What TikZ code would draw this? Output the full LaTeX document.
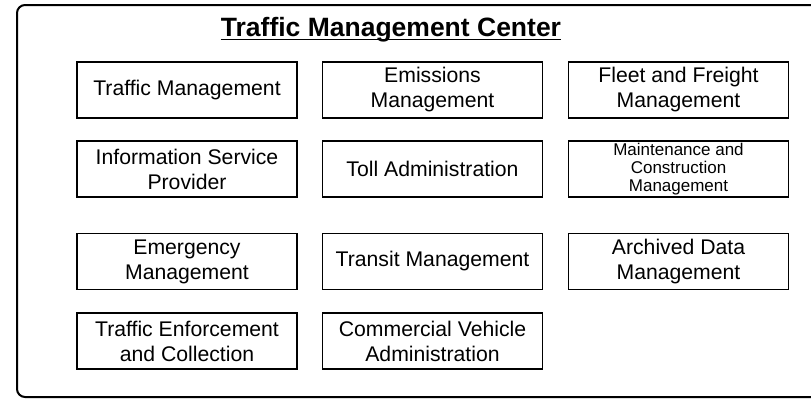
\documentclass[tikz,border=0pt]{standalone}
\usepackage{fontspec}
\setmainfont{Liberation Sans}
\begin{document}
\begin{tikzpicture}[x=1pt,y=-1pt,
    fnbox/.style={draw,line width=1.6pt,minimum width=220pt,minimum height=56pt,
      inner sep=0pt,align=center,font=\fontsize{21.2}{25}\selectfont},
    smalltext/.style={font=\fontsize{17}{18}\selectfont}]
  \useasboundingbox (0,0) rectangle (811,399);
  \clip (0,0) rectangle (811,399);
  % outer box, cut off at the right edge
  \draw[line width=2pt,rounded corners=8pt] (17,5) rectangle (830,397);
  \node[anchor=base,inner sep=0pt,font=\bfseries\fontsize{26.5}{30}\selectfont]
    (tmc) at (391,36) {Traffic Management Center};
  \draw[line width=1.8pt] ([yshift=-3.5pt]tmc.base west) -- ([yshift=-3.5pt]tmc.base east);
  % first row
  \node[fnbox] (traffic) at (187,90) {Traffic Management};
  \node[fnbox] (emissions) at (432.5,90) {Emissions\\Management};
  \node[fnbox] (fleet) at (678.5,90) {Fleet and Freight\\Management};
  % second row
  \node[fnbox] (isp) at (187,169) {Information Service\\Provider};
  \node[fnbox] (toll) at (432.5,169) {Toll Administration};
  \node[fnbox,smalltext] (mcm) at (678.5,169) {Maintenance and\\Construction\\Management};
  % third row
  \node[fnbox] (emergency) at (187,261.5) {Emergency\\Management};
  \node[fnbox] (transit) at (432.5,261.5) {Transit Management};
  \node[fnbox] (archive) at (678.5,261.5) {Archived Data\\Management};
  % fourth row
  \node[fnbox] (enforce) at (187,341) {Traffic Enforcement\\and Collection};
  \node[fnbox] (cva) at (432.5,341) {Commercial Vehicle\\Administration};
\end{tikzpicture}
\end{document}
